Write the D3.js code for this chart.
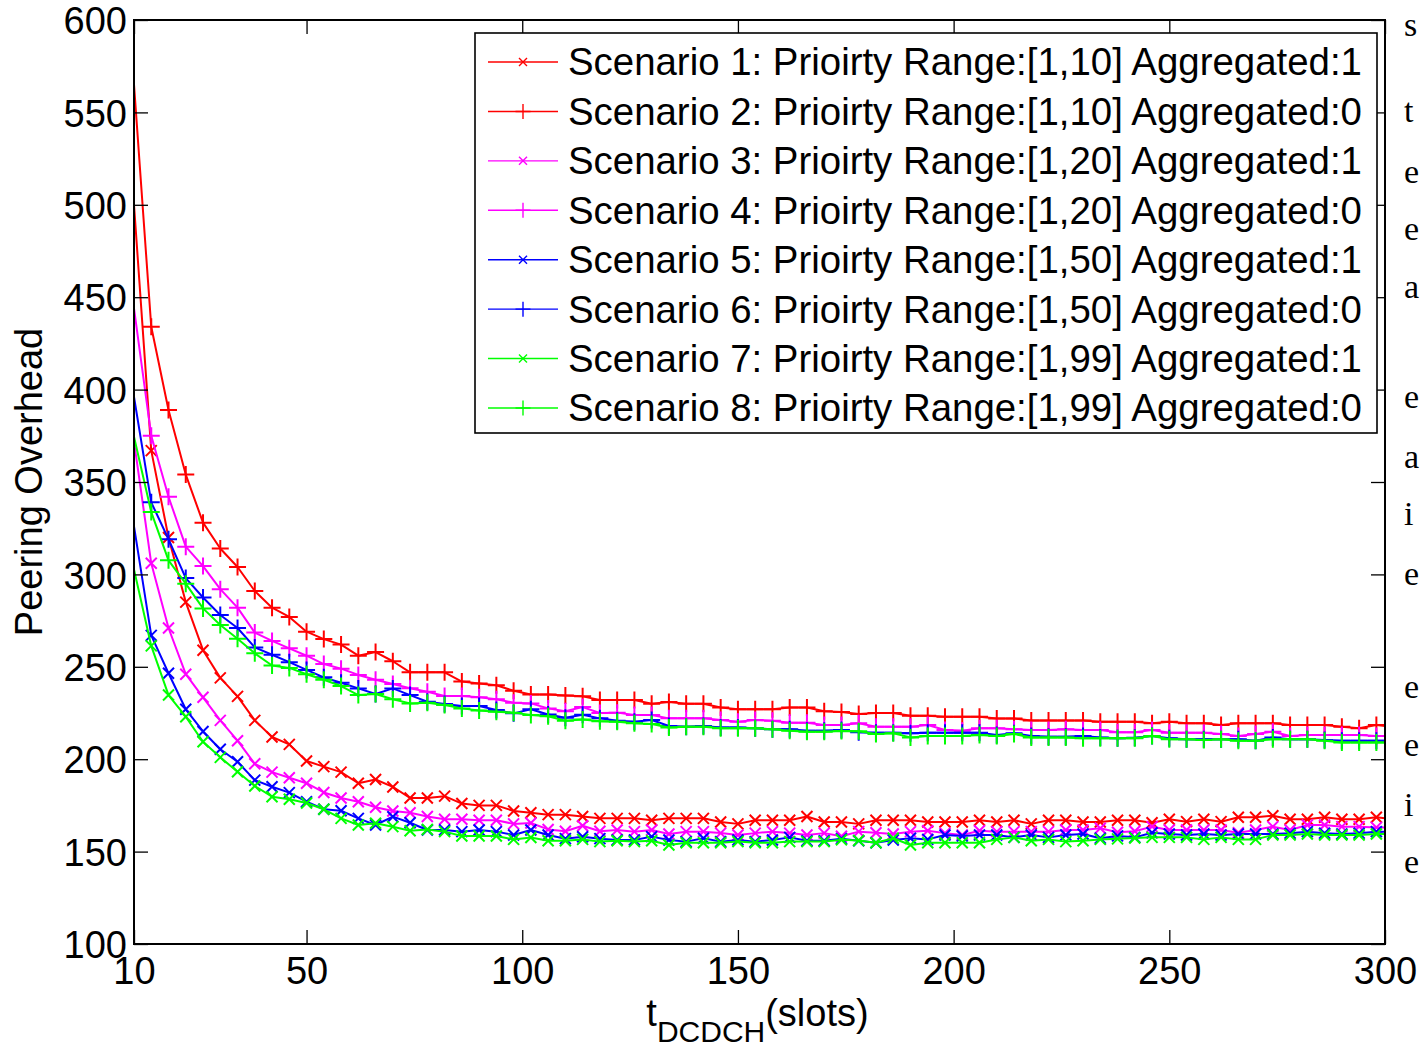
<!DOCTYPE html>
<html>
<head>
<meta charset="utf-8">
<script src="https://cdn.jsdelivr.net/npm/d3@7/dist/d3.min.js"></script>
<style>
  html, body { margin: 0; padding: 0; background: #fff; }
  svg { display: block; }
</style>
</head>
<body>
<div id="chart"></div>
<script>
// t_DCDCH slots (one point every 4 slots, last one at 300)
const slots = [
  10, 14, 18, 22, 26, 30, 34, 38, 42, 46,
  50, 54, 58, 62, 66, 70, 74, 78, 82, 86,
  90, 94, 98, 102, 106, 110, 114, 118, 122, 126,
  130, 134, 138, 142, 146, 150, 154, 158, 162, 166,
  170, 174, 178, 182, 186, 190, 194, 198, 202, 206,
  210, 214, 218, 222, 226, 230, 234, 238, 242, 246,
  250, 254, 258, 262, 266, 270, 274, 278, 282, 286,
  290, 294, 298, 300
];

const s1 = [
  500, 367, 320, 285, 259, 244, 234, 221, 212, 208,
  199, 196, 193, 187, 189, 185, 179, 179, 180, 176,
  175, 175, 172, 171, 170, 170, 169, 168, 168, 168,
  167, 168, 168, 168, 166, 165, 167, 167, 167, 169,
  166, 166, 165, 167, 167, 167, 166, 166, 166, 167,
  166, 167, 165, 167, 167, 166, 166, 167, 167, 165.6,
  167.5, 166.2, 167.5, 166.2, 168.6, 168.6, 169.4, 167.5, 167.5, 168.6,
  167.5, 167.5, 168.6, 168
];
const s2 = [
  565, 434, 389, 354, 328, 314, 304, 291, 282, 277,
  269, 265, 262, 256, 258, 253, 247, 247, 247, 242,
  241, 240, 237, 235, 235, 234.5, 234, 232, 232, 232,
  230, 231, 230, 230, 228, 227, 227, 227, 228, 228,
  226, 225.5, 224.5, 225, 225, 223.5, 223.5, 223, 223, 223,
  222, 222, 221, 221, 221, 221, 220.3, 220.3, 220.3, 219.4,
  220.3, 219.4, 219.4, 218.5, 219.4, 219.4, 219.4, 218.5, 218.5, 218.5,
  217.6, 216.7, 218.5, 218
];
const s3 = [
  372, 306, 271, 246, 233.5, 221, 210, 197.5, 193, 190,
  187, 182, 179, 177, 174, 172, 171, 169, 167.5, 167.5,
  167, 167, 165, 165.5, 162, 161, 164, 161, 161.7, 160.8,
  161.7, 159.5, 160.8, 160.8, 160, 159, 160, 160.8, 160, 159,
  160, 158.3, 160.8, 160.2, 159.5, 160.8, 161.3, 160, 159, 161.3,
  160.8, 160.8, 160.8, 160.8, 161.7, 161.7, 162.6, 160.5, 161, 163.5,
  161.7, 161.7, 161.7, 161.7, 160.2, 161.7, 163.5, 161.7, 164.4, 164.4,
  163.5, 163.5, 163.1, 163
];
const s4 = [
  444, 375, 342, 315, 304.5, 292, 282, 268.5, 264, 260,
  256, 251.5, 249, 245.6, 243, 240.7, 238.4, 236.5, 234.2, 234.2,
  233.5, 232.4, 230.6, 230.2, 227.5, 226, 228.2, 225, 225.2, 223.9,
  223.9, 222.1, 222.1, 222.1, 221.2, 220.3, 221.2, 220.8, 219.7, 219.7,
  218.5, 218.5, 219.4, 217.6, 217.6, 217.6, 218.5, 215.8, 215.4, 216.7,
  216.7, 216.2, 215.8, 215.8, 216.2, 215.8, 215.8, 214.6, 214.6, 215.8,
  214.3, 214.3, 214.3, 213.6, 212.6, 213.6, 214.9, 212.6, 213.1, 213.1,
  213.1, 213.1, 212.6, 212.6
];
const s5 = [
  326, 267, 246.5, 227, 215, 205.4, 198.6, 188.7, 185.1, 181.9,
  177, 172.9, 172.1, 168, 164.4, 168.9, 165.6, 161.7, 161.7, 160.8,
  161.7, 160.8, 159, 161.7, 159, 157, 158, 157, 156.3, 156.3,
  158.1, 156.3, 155.4, 157.2, 155.4, 156.3, 155.4, 156.3, 157.7, 155.9,
  155.9, 157, 155.9, 154.8, 156.3, 157.2, 156.6, 159, 158.4, 159,
  159, 157.7, 159, 157.7, 159, 159.5, 157.2, 158.5, 157.7, 160.2,
  159.5, 159, 159.5, 159, 159.5, 159.5, 159.5, 159.9, 160.8, 159.9,
  159.5, 159.9, 160.8, 160.8
];
const s6 = [
  396, 339, 319, 298, 287.5, 278, 271, 260.5, 256.5, 252.5,
  248.3, 244.3, 241.4, 238.3, 235.3, 238.3, 234.7, 231.1, 229.9, 228.8,
  228.8, 226.6, 224.8, 227, 224.2, 222.4, 224, 222.1, 220.8, 220.3,
  221.2, 218, 217.6, 218, 217.2, 217.2, 216.7, 216.2, 216.2, 215.4,
  215.4, 215.8, 214.6, 214.3, 214.3, 214, 214.3, 214.3, 214.3, 214.3,
  213.1, 214, 212.6, 212.2, 212.2, 212.6, 211.8, 211.3, 211.6, 212.6,
  211.3, 210.8, 210.8, 210.8, 210.8, 210, 211.8, 210.8, 210.8, 210.4,
  210, 210, 210, 210
];
const s7 = [
  302.7, 261.3, 234.7, 223, 209.4, 201, 193.2, 185.5, 179.7, 178.3,
  176.3, 172.9, 168, 164.4, 165.3, 163.5, 161.3, 162, 160.8, 158.4,
  158.4, 158.4, 156.6, 157.6, 155.9, 155.9, 156.6, 155.4, 155.9, 155.4,
  155.9, 153.6, 154.8, 154.8, 154.8, 155.4, 154.8, 154.8, 155.4, 155.4,
  155.4, 156.4, 156, 154.8, 157.2, 153.6, 154.8, 154.8, 154.8, 154.8,
  156.6, 157.7, 155.9, 156.6, 155.4, 155.9, 156.6, 156.9, 157.4, 157.7,
  157.7, 157.7, 156.6, 157.7, 156.6, 156.6, 159, 159, 159.5, 159,
  159, 159, 159.5, 159.5
];
const s8 = [
  374.5, 333.7, 307.6, 295, 281.6, 272.6, 265.2, 257.3, 250.7, 249.4,
  246, 243, 239.6, 234.7, 235.3, 232.4, 230.2, 230.6, 229.3, 227.5,
  226.3, 225.7, 225.2, 223.9, 223.2, 220.8, 221.5, 220.5, 220.3, 219.4,
  219, 217.2, 217.6, 217.6, 216.7, 216.7, 216.7, 216.2, 215.4, 214.9,
  214.9, 215.3, 215.1, 213.6, 214, 211.8, 212.6, 212.6, 212.6, 213.1,
  212.6, 213.6, 211.8, 211.8, 211.8, 211.3, 211.3, 211.3, 211.3, 212.6,
  210.8, 210.8, 210.4, 210.8, 210, 210, 210.8, 210.8, 210.8, 210,
  209, 209, 209, 209
];

const seriesNames = [
  'Scenario 1: Prioirty Range:[1,10] Aggregated:1',
  'Scenario 2: Prioirty Range:[1,10] Aggregated:0',
  'Scenario 3: Prioirty Range:[1,20] Aggregated:1',
  'Scenario 4: Prioirty Range:[1,20] Aggregated:0',
  'Scenario 5: Prioirty Range:[1,50] Aggregated:1',
  'Scenario 6: Prioirty Range:[1,50] Aggregated:0',
  'Scenario 7: Prioirty Range:[1,99] Aggregated:1',
  'Scenario 8: Prioirty Range:[1,99] Aggregated:0'
];
const seriesValues = [s1, s2, s3, s4, s5, s6, s7, s8];
const seriesColors = ['#ff0000', '#ff0000', '#ff00ff', '#ff00ff', '#0000ff', '#0000ff', '#00ff00', '#00ff00'];
const seriesMarkers = ['x', '+', 'x', '+', 'x', '+', 'x', '+'];

const xTicks = [10, 50, 100, 150, 200, 250, 300];
const yTicks = [100, 150, 200, 250, 300, 350, 400, 450, 500, 550, 600];

// letters of the neighbouring page text, cut off at the right edge
const edgeText = [['s', 36], ['t', 122], ['e', 183], ['e', 240], ['a', 298], ['e', 408], ['a', 468], ['i', 525], ['e', 585], ['e', 698], ['e', 756], ['i', 816], ['e', 873]];

const width = 1420, height = 1047;
const plot = { left: 134, right: 1385, top: 20, bottom: 944 };
const font = '"Liberation Sans", Arial, Helvetica, sans-serif';
const fontSize = 38;

const x = d3.scaleLinear().domain([10, 300]).range([plot.left, plot.right]);
const y = d3.scaleLinear().domain([100, 600]).range([plot.bottom, plot.top]);

const svg = d3.select('#chart').append('svg')
    .attr('width', width)
    .attr('height', height)
    .attr('viewBox', [0, 0, width, height])
    .style('font-family', font);

svg.append('rect').attr('width', width).attr('height', height).attr('fill', '#fff');

svg.append('clipPath').attr('id', 'plot-clip')
    .append('rect')
    .attr('x', plot.left).attr('y', plot.top)
    .attr('width', plot.right - plot.left)
    .attr('height', plot.bottom - plot.top);

function markerPath(type, r) {
    if (type === '+') return `M${-r},0H${r}M0,${-r}V${r}`;
    return `M${-r},${-r}L${r},${r}M${-r},${r}L${r},${-r}`;
}

// Lines and markers
const gData = svg.append('g').attr('clip-path', 'url(#plot-clip)');
const line = d3.line().x((d, i) => x(slots[i])).y(d => y(d));

seriesValues.forEach((vals, k) => {
    const g = gData.append('g');
    g.append('path')
        .datum(vals)
        .attr('fill', 'none')
        .attr('stroke', seriesColors[k])
        .attr('stroke-width', 2)
        .attr('stroke-linejoin', 'round')
        .attr('d', line);
    // markers start at slot 14; the end points (10 and 300) carry none
    const pts = vals.map((v, i) => [slots[i], v]).slice(1, vals.length - 1);
    g.selectAll('path.mk')
        .data(pts)
        .join('path')
        .attr('class', 'mk')
        .attr('fill', 'none')
        .attr('stroke', seriesColors[k])
        .attr('stroke-width', 2)
        .attr('transform', d => `translate(${x(d[0])},${y(d[1])})`)
        .attr('d', markerPath(seriesMarkers[k], seriesMarkers[k] === '+' ? 8.5 : 5.5));
});

// Axes (ticks point inward, box on)
const tickLen = 14;
const gx = svg.append('g')
    .attr('transform', `translate(0,${plot.bottom})`)
    .call(d3.axisBottom(x).tickValues(xTicks).tickSizeInner(-tickLen).tickSizeOuter(0).tickPadding(13).tickFormat(d3.format('d')));
const gy = svg.append('g')
    .attr('transform', `translate(${plot.left},0)`)
    .call(d3.axisLeft(y).tickValues(yTicks).tickSizeInner(-tickLen).tickSizeOuter(0).tickPadding(7).tickFormat(d3.format('d')));
const gxTop = svg.append('g')
    .attr('transform', `translate(0,${plot.top})`)
    .call(d3.axisTop(x).tickValues(xTicks).tickSizeInner(-tickLen).tickSizeOuter(0).tickFormat(''));
const gyRight = svg.append('g')
    .attr('transform', `translate(${plot.right},0)`)
    .call(d3.axisRight(y).tickValues(yTicks).tickSizeInner(-tickLen).tickSizeOuter(0).tickFormat(''));

[gx, gy, gxTop, gyRight].forEach(g => {
    g.select('.domain').remove();
    g.selectAll('.tick line').attr('stroke', '#000').attr('stroke-width', 1.3);
    g.selectAll('.tick text')
        .attr('fill', '#000')
        .style('font-family', font)
        .style('font-size', fontSize + 'px');
});
gy.selectAll('.tick text').attr('dy', '0.36em');

svg.append('rect')
    .attr('x', plot.left).attr('y', plot.top)
    .attr('width', plot.right - plot.left)
    .attr('height', plot.bottom - plot.top)
    .attr('fill', 'none')
    .attr('stroke', '#000')
    .attr('stroke-width', 2);

// Axis titles
svg.append('text')
    .attr('transform', `translate(42,${(plot.top + plot.bottom) / 2}) rotate(-90)`)
    .attr('text-anchor', 'middle')
    .style('font-size', fontSize + 'px')
    .attr('fill', '#000')
    .text('Peering Overhead');

const xTitle = svg.append('text')
    .attr('x', (plot.left + plot.right) / 2 - 2)
    .attr('y', 1026)
    .attr('text-anchor', 'middle')
    .attr('fill', '#000')
    .style('font-size', fontSize + 'px');
xTitle.append('tspan').text('t');
xTitle.append('tspan').attr('dy', 16).style('font-size', '30px').text('DCDCH');
xTitle.append('tspan').attr('dy', -16).text('(slots)');

// Legend
const legend = svg.append('g');
legend.append('rect')
    .attr('x', 475).attr('y', 33)
    .attr('width', 902).attr('height', 400)
    .attr('fill', '#fff')
    .attr('stroke', '#000')
    .attr('stroke-width', 1.6);

const rowY = d3.scalePoint().domain(d3.range(seriesNames.length)).range([62, 408]);
seriesNames.forEach((name, k) => {
    const g = legend.append('g').attr('transform', `translate(0,${rowY(k)})`);
    g.append('line')
        .attr('x1', 488).attr('x2', 558)
        .attr('stroke', seriesColors[k])
        .attr('stroke-width', 1.4);
    g.append('path')
        .attr('transform', 'translate(523,0)')
        .attr('fill', 'none')
        .attr('stroke', seriesColors[k])
        .attr('stroke-width', 1.4)
        .attr('d', markerPath(seriesMarkers[k], seriesMarkers[k] === '+' ? 7.5 : 4));
    g.append('text')
        .attr('x', 568)
        .attr('dy', '0.35em')
        .attr('fill', '#000')
        .style('font-size', '38.4px')
        .text(name);
});

// cut-off page text on the right
svg.append('g')
    .selectAll('text')
    .data(edgeText)
    .join('text')
    .attr('x', 1404)
    .attr('y', d => d[1])
    .attr('fill', '#000')
    .style('font-family', '"Liberation Serif", "Times New Roman", serif')
    .style('font-size', '34px')
    .text(d => d[0]);
</script>
</body>
</html>
